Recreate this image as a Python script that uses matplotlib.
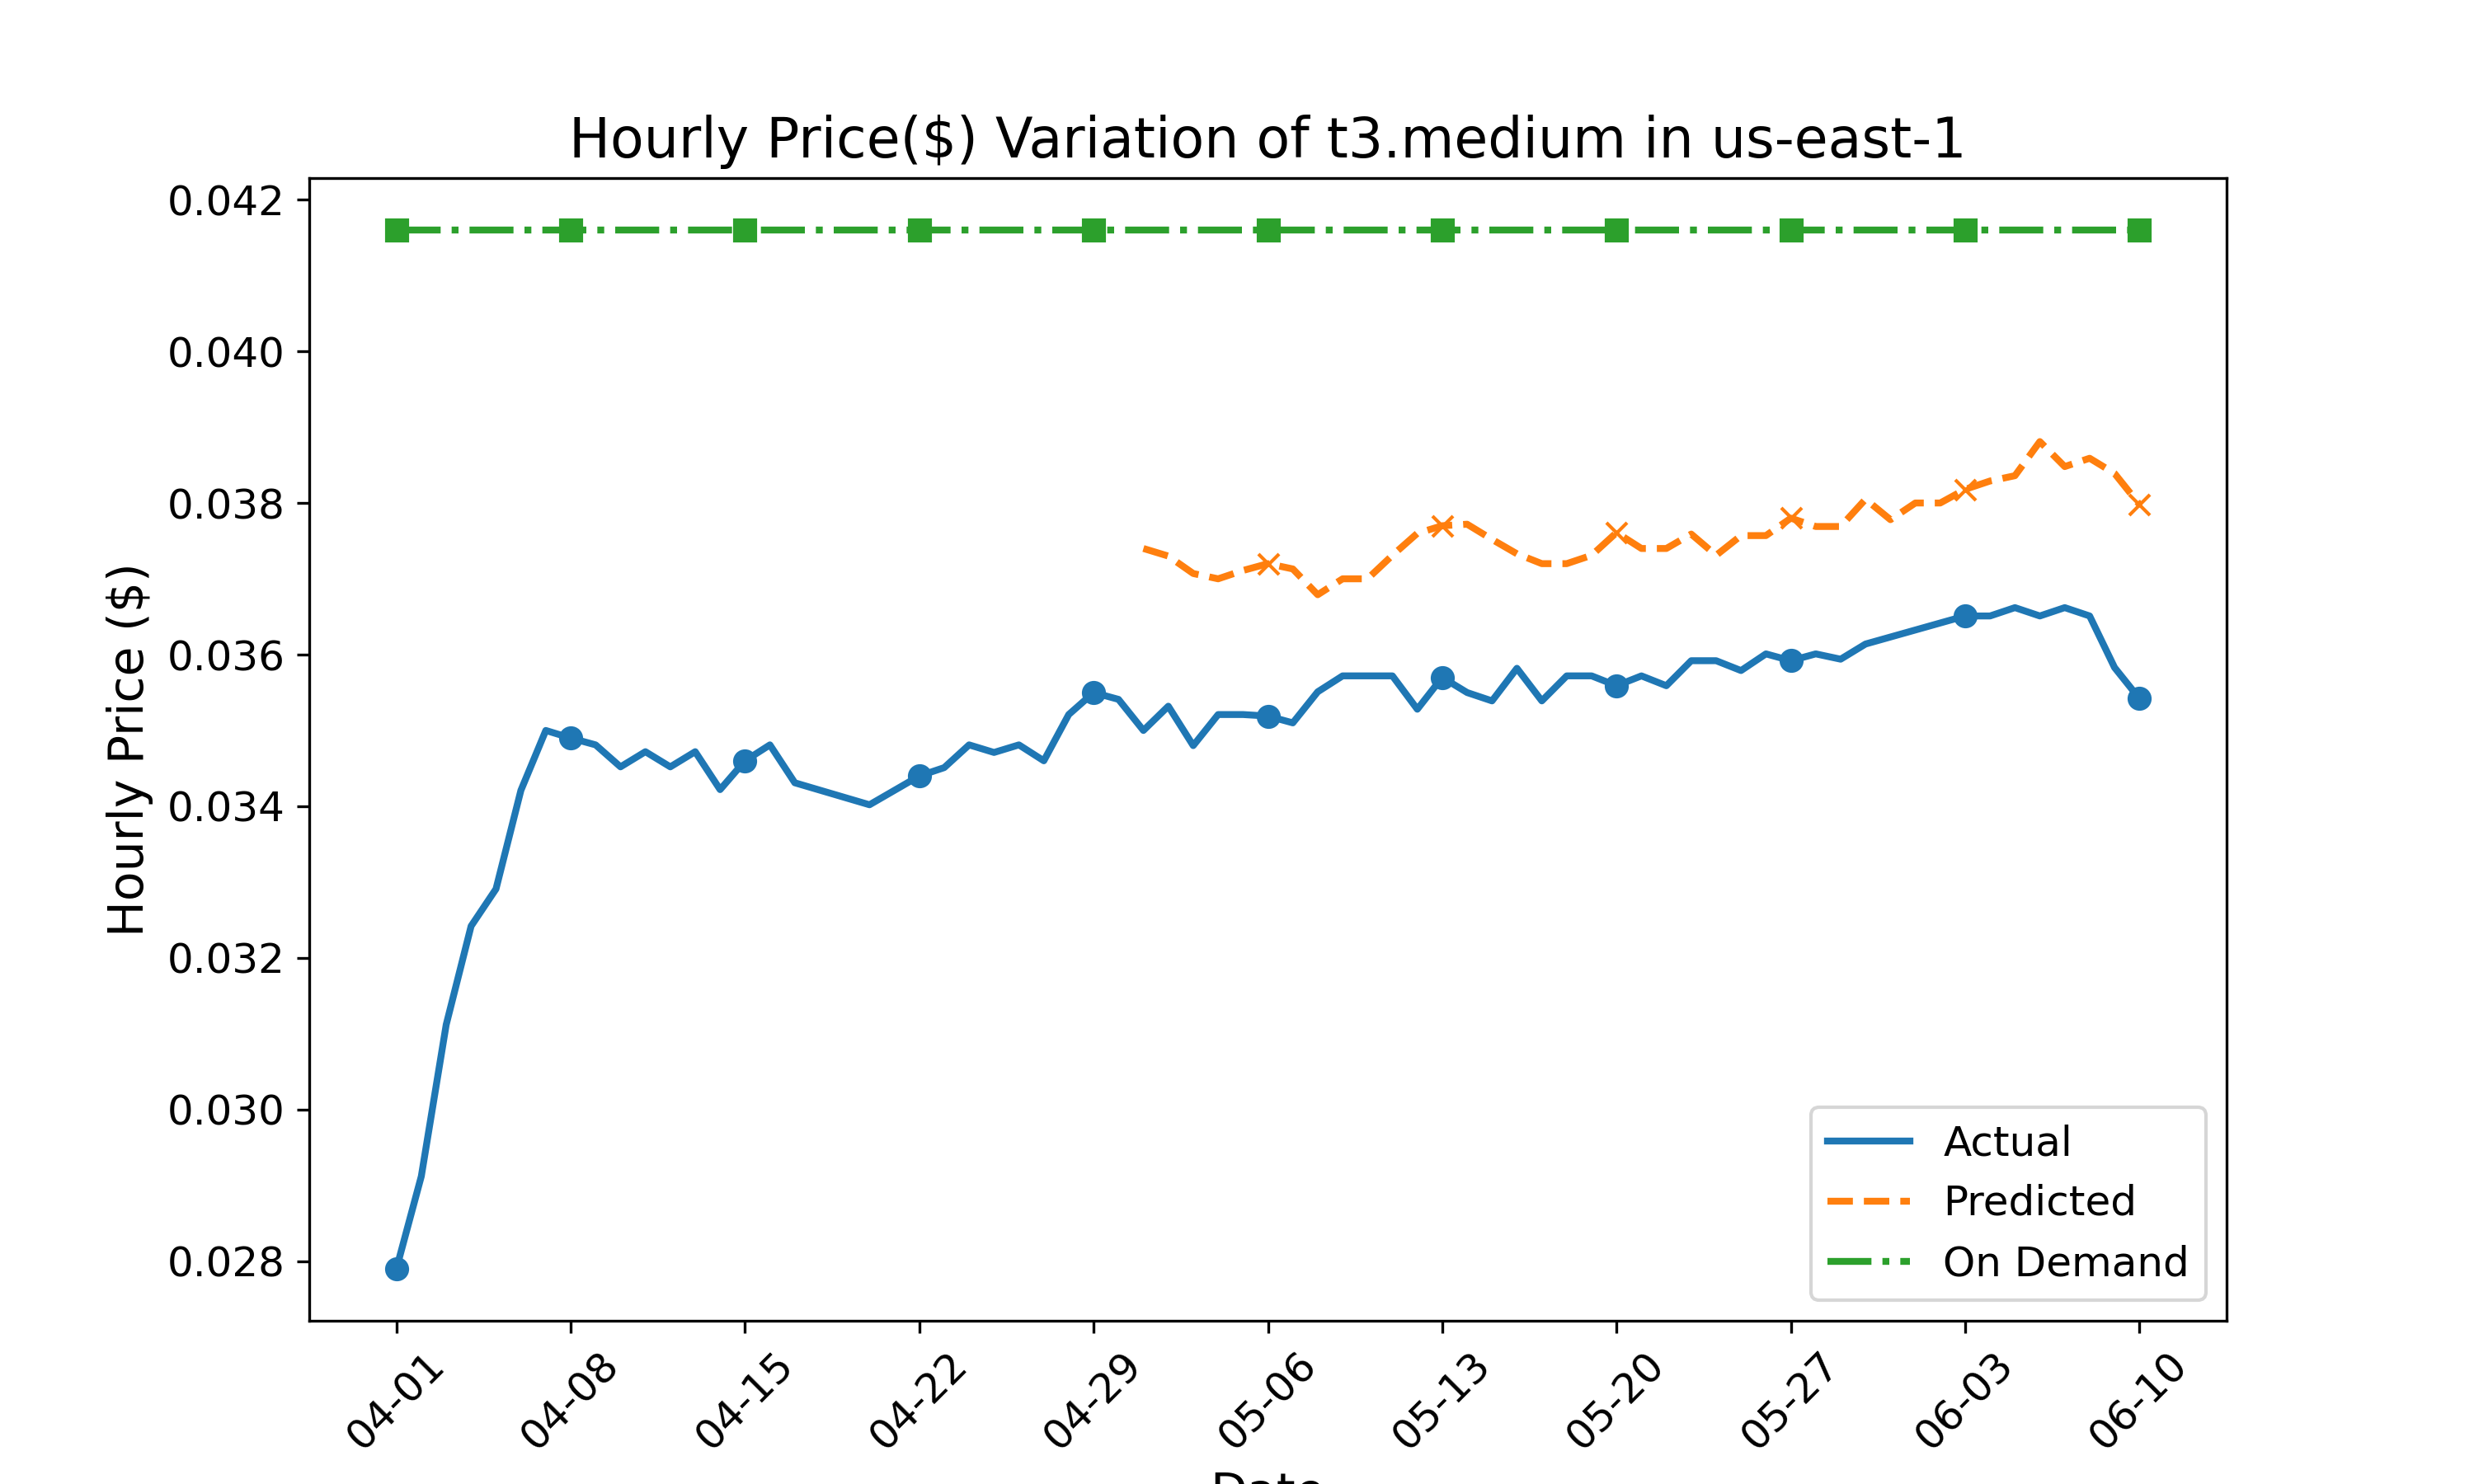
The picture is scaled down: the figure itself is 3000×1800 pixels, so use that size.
import matplotlib
matplotlib.use("Agg")
import matplotlib.pyplot as plt
import matplotlib.dates as mdates
import pandas as pd

# actual spot price (some days missing in the data)
actual_dates = ["04-01", "04-02", "04-03", "04-04", "04-05", "04-06", "04-07", "04-08",
                "04-09", "04-10", "04-11", "04-12", "04-13", "04-14", "04-15", "04-16",
                "04-17", "04-20", "04-22", "04-23", "04-24", "04-25", "04-26", "04-27",
                "04-28", "04-29", "04-30", "05-01", "05-02", "05-03", "05-04", "05-05",
                "05-06", "05-07", "05-08", "05-09", "05-10", "05-11", "05-12", "05-13",
                "05-14", "05-15", "05-16", "05-17", "05-18", "05-19", "05-20", "05-21",
                "05-22", "05-23", "05-24", "05-25", "05-26", "05-27", "05-28", "05-29",
                "05-30", "06-03", "06-04", "06-05", "06-06", "06-07", "06-08", "06-09",
                "06-10"]
actual_price = [0.0279, 0.02912, 0.03112, 0.03242, 0.03291, 0.03421, 0.0350, 0.0349,
                0.03481, 0.03452, 0.03472, 0.03452, 0.03472, 0.03422, 0.0346, 0.03481,
                0.03431, 0.03402, 0.0344, 0.03451, 0.03481, 0.03471, 0.03481, 0.0346,
                0.03521, 0.0355, 0.03541, 0.0350, 0.03532, 0.0348, 0.03521, 0.03521,
                0.03519, 0.0351, 0.03551, 0.03572, 0.03572, 0.03572, 0.03528, 0.0357,
                0.0355, 0.03539, 0.03582, 0.03539, 0.03572, 0.03572, 0.03559, 0.03572,
                0.03559, 0.03592, 0.03592, 0.03579, 0.03601, 0.03592, 0.03601, 0.03594,
                0.03614, 0.03651, 0.03651, 0.03662, 0.03651, 0.03662, 0.03651, 0.03583,
                0.03542]

# model prediction
pred_dates = ["05-01", "05-02", "05-03", "05-04", "05-05", "05-06", "05-07", "05-08",
              "05-09", "05-10", "05-11", "05-12", "05-13", "05-14", "05-15", "05-16",
              "05-17", "05-18", "05-19", "05-20", "05-21", "05-22", "05-23", "05-24",
              "05-25", "05-26", "05-27", "05-28", "05-29", "05-30", "05-31", "06-01",
              "06-02", "06-03", "06-04", "06-05", "06-06", "06-07", "06-08", "06-09",
              "06-10"]
pred_price = [0.0374, 0.0373, 0.03707, 0.0370, 0.03711, 0.0372, 0.03713, 0.03679,
              0.0370, 0.0370, 0.03731, 0.0376, 0.0377, 0.03772, 0.03752, 0.03733,
              0.0372, 0.0372, 0.03731, 0.03761, 0.0374, 0.0374, 0.03759, 0.03731,
              0.03757, 0.03757, 0.0378, 0.03769, 0.03769, 0.03805, 0.03778, 0.0380,
              0.0380, 0.03818, 0.03829, 0.03836, 0.03881, 0.03848, 0.03859, 0.03839,
              0.03798]

week_dates = ["04-01", "04-08", "04-15", "04-22", "04-29", "05-06", "05-13", "05-20",
              "05-27", "06-03", "06-10"]
on_demand_price = 0.0416

year = "2023-"
x_act = pd.to_datetime([year + d for d in actual_dates])
x_pred = pd.to_datetime([year + d for d in pred_dates])
x_week = pd.to_datetime([year + d for d in week_dates])

act = pd.Series(actual_price, index=x_act)
pred = pd.Series(pred_price, index=x_pred)

fig, ax = plt.subplots(figsize=(10, 6), dpi=300)

ax.plot(x_act, actual_price, color="tab:blue", lw=2, label="Actual")
ax.plot(x_pred, pred_price, color="tab:orange", lw=2, ls="--", label="Predicted")
ax.plot(x_week, [on_demand_price] * len(x_week), color="tab:green", lw=2, ls="-.",
        label="On Demand")

# weekly markers
wk_act = [d for d in x_week if d in act.index]
wk_pred = [d for d in x_week if d in pred.index]
ax.plot(wk_act, act[wk_act].values, "o", color="tab:blue")
ax.plot(wk_pred, pred[wk_pred].values, "x", color="tab:orange")
ax.plot(x_week, [on_demand_price] * len(x_week), "s", color="tab:green")

ax.set_xticks(x_week)
ax.xaxis.set_major_formatter(mdates.DateFormatter("%m-%d"))
plt.setp(ax.get_xticklabels(), rotation=45)
ax.tick_params(labelsize=12)

ax.set_title("Hourly Price($) Variation of t3.medium in us-east-1", fontsize=16)
ax.set_xlabel("Date", fontsize=14)
ax.set_ylabel("Hourly Price ($)", fontsize=14)
ax.legend(loc="lower right", fontsize=12)

fig.savefig("out.png")
